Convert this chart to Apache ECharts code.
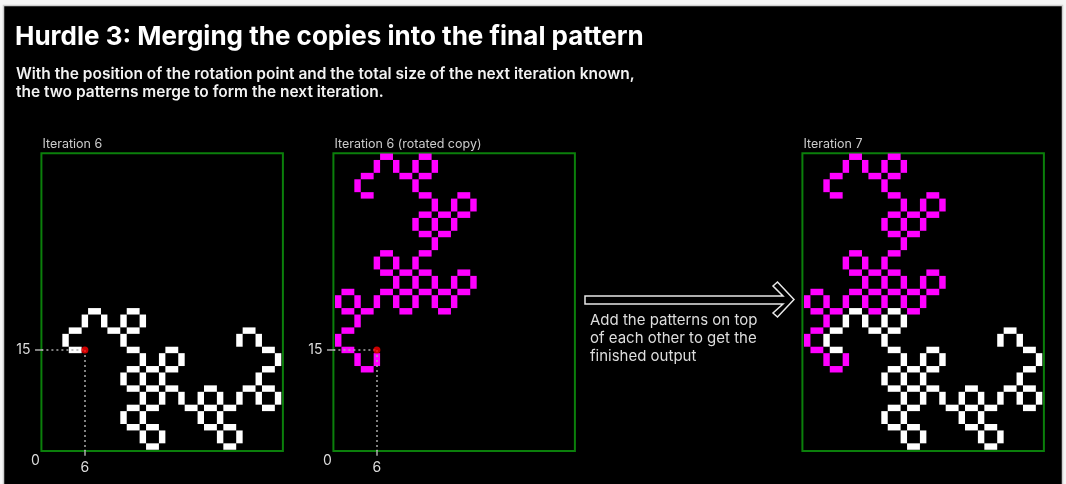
<!DOCTYPE html>
<html>
<head>
<meta charset="utf-8">
<title>Hurdle 3</title>
<script src="https://cdn.jsdelivr.net/npm/echarts@6/dist/echarts.min.js"></script>
<style>
  body { margin: 0; background: #f5f5f5; }
  #main { width: 1066px; height: 484px; }
</style>
</head>
<body>
<div id="main"></div>
<script>
// curve segments on the step lattice (one step = 3 grid cells)
// H = [x, y] of the left end, V = [x, y] of the bottom end
var whiteH = [[2,7],[1,6],[1,5],[3,6],[4,7],[4,6],[4,5],[4,4],[5,4],[6,5],[6,4],[6,3],[7,2],[8,3],[8,2],[9,2],
              [8,1],[9,1],[9,0],[10,3],[11,3],[11,2],[11,4],[11,5],[10,6],[4,3],[5,3],[4,2],[5,2],[4,1],[5,1],[5,0]];
var whiteV = [[2,6],[3,6],[1,5],[4,6],[5,6],[4,5],[5,4],[4,3],[5,3],[6,4],[7,4],[6,3],[6,2],[7,2],[8,2],[8,1],
              [9,2],[9,1],[10,2],[9,0],[10,0],[11,2],[12,2],[11,3],[12,4],[11,5],[10,5],[6,0],[5,2],[4,1],[5,1],[5,0]];
var magentaH = [[0,5],[0,6],[1,4],[0,7],[0,8],[1,7],[2,8],[3,7],[3,8],[2,9],[2,10],[3,9],[4,9],[4,10],[4,11],[5,11],
                [4,12],[5,12],[4,13],[6,12],[6,13],[4,14],[4,15],[3,14],[2,15],[1,14],[1,13],[6,9],[4,8],[5,7],[5,8],[6,8]];
var magentaV = [[0,5],[1,4],[2,4],[1,6],[0,7],[1,7],[2,7],[3,7],[3,8],[2,9],[3,9],[4,9],[5,10],[4,11],[5,11],[5,12],
                [6,11],[6,12],[7,12],[4,13],[4,14],[5,14],[3,14],[2,14],[1,13],[4,7],[4,8],[5,7],[5,8],[6,7],[6,8],[7,8]];
// rotation point (grid cell) and grid size in cells
var rotationCell = [6, 15];
var gridCols = 37, gridRows = 46;
var panelTitles = ['Iteration 6', 'Iteration 6 (rotated copy)', 'Iteration 7'];

var STEP = 3;
var CELL = 6.44;
var PAD = 0.25;
var panelLeft = [41.4, 333.4, 802.4];
var gridTop = 153.2;

var myChart = echarts.init(document.getElementById('main'));

function segs(h, v) {
    return h.map(function (p) { return [p[0], p[1], 0]; })
        .concat(v.map(function (p) { return [p[0], p[1], 1]; }));
}

function renderSeg(params, api) {
    var a = api.value(0), b = api.value(1), dir = api.value(2);
    var x0, x1, y0, y1;
    if (dir === 0) { x0 = a * STEP + 1; x1 = a * STEP + 3; y0 = b * STEP; y1 = b * STEP + 1; }
    else { x0 = a * STEP; x1 = a * STEP + 1; y0 = b * STEP + 1; y1 = b * STEP + 3; }
    var p0 = api.coord([x0, y1]);
    var p1 = api.coord([x1, y0]);
    return {
        type: 'rect',
        shape: { x: p0[0], y: p0[1], width: p1[0] - p0[0], height: p1[1] - p0[1] },
        style: { fill: api.visual('color') }
    };
}

var px = rotationCell[0] + 0.5, py = rotationCell[1] + 0.5;
var labelStyle = { color: '#dddddd', fontFamily: 'Inter', fontSize: 14 };

var grids = [], xAxes = [], yAxes = [], series = [];
for (var i = 0; i < 3; i++) {
    grids.push({
        left: panelLeft[i], top: gridTop,
        width: (gridCols + 2 * PAD) * CELL, height: (gridRows + PAD) * CELL,
        show: true, borderColor: '#0b7f0b', borderWidth: 2, backgroundColor: 'transparent'
    });
    var showAxis = i < 2;
    xAxes.push({
        type: 'value', gridIndex: i, min: -PAD, max: gridCols + PAD,
        show: showAxis, axisLine: { show: false }, splitLine: { show: false },
        axisTick: { show: true, customValues: [px], length: 6, lineStyle: { color: '#aaaaaa', width: 1.5 } },
        axisLabel: Object.assign({ customValues: [px], margin: 10, formatter: function (v) { return String(Math.floor(v)); } }, labelStyle)
    });
    yAxes.push({
        type: 'value', gridIndex: i, min: -PAD * 0.8, max: gridRows + PAD * 0.2,
        show: showAxis, axisLine: { show: false }, splitLine: { show: false },
        axisTick: { show: true, customValues: [py], length: 8, lineStyle: { color: '#aaaaaa', width: 1.5 } },
        axisLabel: Object.assign({ customValues: [py], margin: 11, formatter: function (v) { return String(Math.floor(v)); } }, labelStyle)
    });
}

series.push({ type: 'custom', xAxisIndex: 0, yAxisIndex: 0, z: 2, itemStyle: { color: '#ffffff' },
    renderItem: renderSeg, data: segs(whiteH, whiteV) });
series.push({ type: 'custom', xAxisIndex: 1, yAxisIndex: 1, z: 2, itemStyle: { color: '#ff00ff' },
    renderItem: renderSeg, data: segs(magentaH, magentaV) });
series.push({ type: 'custom', xAxisIndex: 2, yAxisIndex: 2, z: 2, itemStyle: { color: '#ffffff' },
    renderItem: renderSeg, data: segs(whiteH, whiteV) });
series.push({ type: 'custom', xAxisIndex: 2, yAxisIndex: 2, z: 2, itemStyle: { color: '#ff00ff' },
    renderItem: renderSeg, data: segs(magentaH, magentaV) });

for (var k = 0; k < 2; k++) {
    series.push({
        type: 'scatter', xAxisIndex: k, yAxisIndex: k, z: 5,
        symbolSize: 7, itemStyle: { color: '#ff0000' },
        data: [[px, py]],
        markLine: {
            silent: true, symbol: 'none', animation: false,
            lineStyle: { color: '#aaaaaa', type: [2, 3], width: 1.5 },
            label: { show: false },
            data: [
                [{ coord: [-PAD, py] }, { coord: [px, py] }],
                [{ coord: [px, py] }, { coord: [px, -PAD * 0.8] }]
            ]
        }
    });
}

var titles = [
    { text: 'Hurdle 3: Merging the copies into the final pattern', left: 15, top: 22, padding: 0,
      textStyle: { color: '#ffffff', fontFamily: 'Inter', fontWeight: 'bold', fontSize: 26, lineHeight: 30 } },
    { text: 'With the position of the rotation point and the total size of the next iteration known,\nthe two patterns merge to form the next iteration.',
      left: 16, top: 65.5, padding: 0,
      textStyle: { color: '#f2f2f2', fontFamily: 'Inter', fontWeight: 600, fontSize: 15.5, lineHeight: 18 } },
    { text: 'Add the patterns on top\nof each other to get the\nfinished output', left: 590, top: 311, padding: 0,
      textStyle: { color: '#dddddd', fontFamily: 'Inter', fontWeight: 'normal', fontSize: 15, lineHeight: 18 } }
];
panelTitles.forEach(function (t, i) {
    titles.push({ text: t, left: panelLeft[i] + 1, top: 137, padding: 0,
        textStyle: { color: '#cccccc', fontFamily: 'Inter', fontWeight: 'normal', fontSize: 12.5, lineHeight: 14 } });
});

myChart.setOption({
    animation: false,
    backgroundColor: 'transparent',
    title: titles,
    grid: grids,
    xAxis: xAxes,
    yAxis: yAxes,
    series: series,
    graphic: [
        { id: 'bg', type: 'rect', z: -10, shape: { x: 3.5, y: 5.5, width: 1059, height: 490 },
          style: { fill: '#000000', stroke: '#cfcfcf', lineWidth: 1.5 } },
        { id: 'arrow', type: 'polygon', z: 10,
          shape: { points: [[585, 296], [783, 296], [773, 286], [777.5, 282], [794, 299.5], [777.5, 317], [773, 313], [783, 304], [585, 304]] },
          style: { fill: '#000000', stroke: '#e8e8e8', lineWidth: 1.5 } }
    ]
});

// corner "0" labels next to each origin
var zeros = [];
for (var j = 0; j < 2; j++) {
    var c = myChart.convertToPixel({ gridIndex: j }, [-PAD, -PAD * 0.8]);
    zeros.push({ id: 'zero' + j, type: 'text', z: 10, x: c[0] - 6, y: c[1] + 10,
        style: { text: '0', fill: '#dddddd', font: '14px Inter', align: 'center', verticalAlign: 'middle' } });
}
myChart.setOption({ graphic: zeros });
</script>
</body>
</html>
